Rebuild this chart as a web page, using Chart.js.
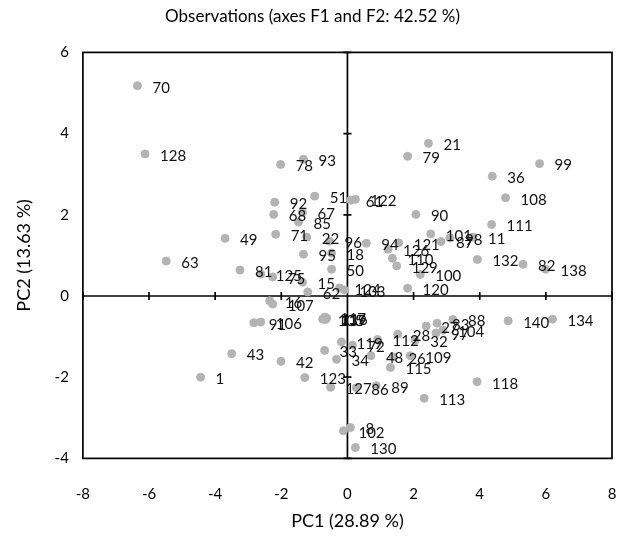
<!DOCTYPE html>
<html>
<head>
<meta charset="utf-8">
<script src="https://cdn.jsdelivr.net/npm/chart.js@4"></script>
<style>
  html, body { margin: 0; padding: 0; background: #fff; }
  #wrap { width: 628px; height: 545px; }
</style>
</head>
<body>
<div id="wrap"><canvas id="pcaChart"></canvas></div>
<script>
// observation ids and their scores on the first two components
const obsLabels = [
  "70", "128", "78", "93", "51", "92", "68", "67", "85", "49",
  "71", "22", "95", "63", "81", "125", "75", "15", "62", "96",
  "18", "50", "61", "122", "124", "103", "16", "107", "91", "106",
  "105", "116", "117", "139", "43", "1", "42", "123", "33", "34",
  "119", "72", "127", "86", "89", "130", "102", "8", "120", "140",
  "134", "118", "113", "115", "48", "26", "109", "112", "28", "32",
  "27", "83", "88", "97", "104", "21", "79", "99", "36", "108",
  "90", "111", "11", "101", "87", "98", "121", "94", "126", "110",
  "129", "100", "132", "82", "138"
];
const pc1 = [
  -6.35, -6.12, -2.02, -1.33, -0.99, -2.20, -2.23, -1.36, -1.48, -3.70,
  -2.17, -1.23, -1.33, -5.48, -3.25, -2.62, -2.26, -1.36, -1.20, -0.54,
  -0.48, -0.48, 0.10, 0.24, -0.24, -0.09, -2.35, -2.26, -2.83, -2.62,
  -0.75, -0.63, -0.68, -0.66, -3.50, -4.44, -2.01, -1.29, -0.69, -0.33,
  -0.18, 0.15, -0.51, 0.27, 0.87, 0.24, -0.12, 0.09, 1.82, 4.86,
  6.20, 3.92, 2.32, 1.30, 0.71, 1.39, 1.90, 0.91, 1.52, 2.05,
  2.38, 2.71, 3.19, 2.68, 2.89, 2.45, 1.82, 5.81, 4.38, 4.78,
  2.07, 4.36, 3.80, 2.52, 2.83, 3.10, 1.55, 0.57, 1.23, 1.36,
  1.49, 2.20, 3.93, 5.31, 5.99
];
const pc2 = [
  5.18, 3.50, 3.24, 3.37, 2.46, 2.31, 2.01, 2.06, 1.82, 1.42,
  1.52, 1.45, 1.03, 0.86, 0.64, 0.54, 0.47, 0.34, 0.10, 1.35,
  1.06, 0.66, 2.36, 2.38, 0.20, 0.15, -0.12, -0.20, -0.66, -0.64,
  -0.57, -0.54, -0.52, -0.58, -1.42, -2.00, -1.61, -2.01, -1.34, -1.56,
  -1.13, -1.21, -2.25, -2.26, -2.21, -3.73, -3.32, -3.24, 0.19, -0.61,
  -0.57, -2.11, -2.52, -1.76, -1.47, -1.50, -1.47, -1.07, -0.94, -1.09,
  -0.74, -0.67, -0.58, -0.91, -0.84, 3.76, 3.44, 3.26, 2.95, 2.42,
  2.01, 1.76, 1.45, 1.53, 1.34, 1.43, 1.31, 1.30, 1.15, 0.93,
  0.74, 0.53, 0.90, 0.78, 0.66
];
const xTicks = [-8, -6, -4, -2, 0, 2, 4, 6, 8];
const yTicks = [-4, -2, 0, 2, 4, 6];

const FONT = "Lato, 'Open Sans', sans-serif";

const points = pc1.map((x, i) => ({ x: x, y: pc2[i] }));

// box around the plot, axes crossing at the origin, and point labels
const pcaDecor = {
  id: "pcaDecor",
  beforeDatasetsDraw(chart) {
    const { ctx, chartArea: a, scales } = chart;
    const x0 = scales.x.getPixelForValue(0);
    const y0 = scales.y.getPixelForValue(0);
    ctx.save();
    ctx.strokeStyle = "#000";
    ctx.lineWidth = 1.7;
    ctx.beginPath();
    ctx.moveTo(x0, a.top);
    ctx.lineTo(x0, a.bottom);
    ctx.moveTo(a.left, y0);
    ctx.lineTo(a.right, y0);
    xTicks.forEach((t) => {
      const px = scales.x.getPixelForValue(t);
      ctx.moveTo(px, y0 - 4);
      ctx.lineTo(px, y0 + 4);
    });
    yTicks.forEach((t) => {
      const py = scales.y.getPixelForValue(t);
      ctx.moveTo(x0 - 4, py);
      ctx.lineTo(x0 + 4, py);
    });
    ctx.stroke();
    ctx.restore();
  },
  afterDatasetsDraw(chart) {
    const { ctx, chartArea: a } = chart;
    const meta = chart.getDatasetMeta(0);
    ctx.save();
    ctx.fillStyle = "#111";
    ctx.font = "15px " + FONT;
    ctx.textAlign = "left";
    ctx.textBaseline = "middle";
    meta.data.forEach((pt, i) => {
      ctx.fillText(obsLabels[i], pt.x + 15, pt.y + 2);
    });
    ctx.strokeStyle = "#000";
    ctx.lineWidth = 1.7;
    ctx.strokeRect(a.left, a.top, a.right - a.left, a.bottom - a.top);
    ctx.restore();
  }
};

new Chart(document.getElementById("pcaChart"), {
  type: "scatter",
  data: {
    datasets: [
      {
        label: "Observations",
        data: points,
        backgroundColor: "#b3b3b3",
        borderColor: "#b3b3b3",
        pointRadius: 4,
        pointHoverRadius: 4,
      },
    ],
  },
  options: {
    responsive: true,
    maintainAspectRatio: false,
    animation: false,
    layout: { padding: { left: 13, right: 16, top: 6, bottom: 13 } },
    plugins: {
      legend: { display: false },
      tooltip: { enabled: false },
      title: {
        display: true,
        text: "Observations (axes F1 and F2: 42.52 %)",
        color: "#000",
        font: { family: FONT, size: 17, weight: "normal" },
        padding: { top: 0, bottom: 26 },
      },
    },
    scales: {
      x: {
        type: "linear",
        min: -8,
        max: 8,
        afterBuildTicks: (s) => { s.ticks = xTicks.map((v) => ({ value: v })); },
        // the large tick padding would otherwise eat into the right edge
        afterFit: (s) => { s.paddingRight = 0; s.paddingLeft = 0; },
        grid: { display: false, drawTicks: false },
        border: { display: false },
        ticks: { color: "#000", padding: 27, font: { family: FONT, size: 15 } },
        title: {
          display: true,
          text: "PC1 (28.89 %)",
          color: "#000",
          font: { family: FONT, size: 18 },
          padding: { top: -20, bottom: 0 },
        },
      },
      y: {
        type: "linear",
        min: -4,
        max: 6,
        afterBuildTicks: (s) => { s.ticks = yTicks.map((v) => ({ value: v })); },
        grid: { display: false, drawTicks: false },
        border: { display: false },
        ticks: { color: "#000", padding: 14, font: { family: FONT, size: 15 } },
        title: {
          display: true,
          text: "PC2 (13.63 %)",
          color: "#000",
          font: { family: FONT, size: 18 },
          padding: { top: 0, bottom: 6 },
        },
      },
    },
  },
  plugins: [pcaDecor],
});
</script>
</body>
</html>
